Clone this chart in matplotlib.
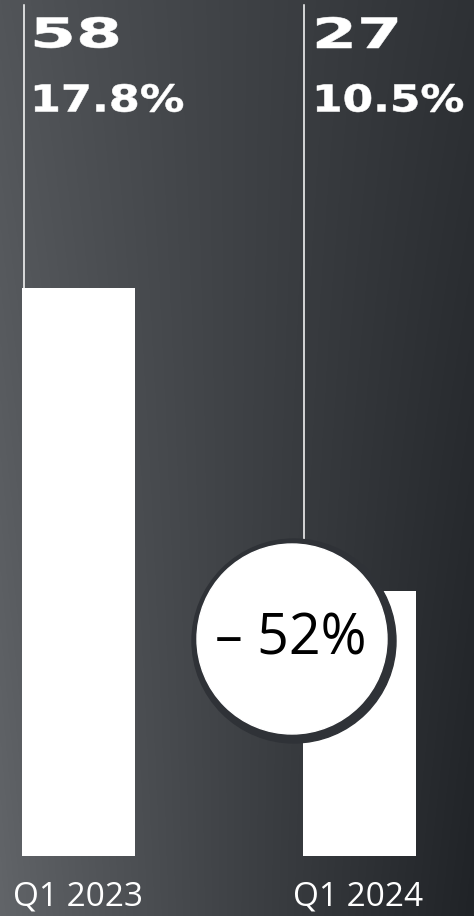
import numpy as np
import matplotlib
matplotlib.use("Agg")
import matplotlib.pyplot as plt
from matplotlib.patches import Circle, PathPatch
from matplotlib.textpath import TextPath
from matplotlib.font_manager import FontProperties
from matplotlib.transforms import Affine2D

# data
periods = ["Q1 2023", "Q1 2024"]
counts = [58, 27]
shares = ["17.8%", "10.5%"]
change = "\u2013 52%"

W, H = 474, 916
fig = plt.figure(figsize=(W / 100, H / 100), dpi=100)

# main axes: bars in data units, x = category index
scale = 9.8  # pixels per unit
base_px = 856
ax = fig.add_axes([0, 0, 1, 1])
ax.set_xlim(-78.5 / 280.5, (W - 78.5) / 280.5)
ax.set_ylim(-(H - base_px) / scale, base_px / scale)
ax.axis("off")

# background gradient (light grey on the left, near black on the right)
tx = np.linspace(0, 1, 240)[None, :]
ty = np.linspace(0, 1, 240)[:, None]  # 0 = top
left = 82 + 16 * ty
right = 46 - 14 * ty
v = left + (right - left) * tx ** 0.9
img = np.dstack([v, v + 3, v + 7]) / 255
x0, x1 = ax.get_xlim()
y0, y1 = ax.get_ylim()
ax.imshow(img, extent=[x0, x1, y0, y1], aspect="auto", zorder=0, origin="upper")

bar_w = 113 / 280.5
xs = np.arange(len(counts))
ax.bar(xs, counts, width=bar_w, color="white", zorder=2)

# thin guide lines from the bar's left edge up to the top
top_val = (base_px - 5) / scale
for x, c in zip(xs, counts):
    lx = x - bar_w / 2 + 1.5 / 280.5
    ax.plot([lx, lx], [c, top_val], color="white", lw=1.1, zorder=1)

# overlay axes in pixel units (y measured from the bottom)
ov = fig.add_axes([0, 0, 1, 1])
ov.set_xlim(0, W)
ov.set_ylim(0, H)
ov.axis("off")
ov.patch.set_alpha(0)


def fit_text(s, x_left, x_right, y_top, y_bottom):
    # wide bold headline text, fitted into a pixel box
    tp = TextPath((0, 0), s, size=1, prop=FontProperties(family="DejaVu Sans", weight="bold"))
    bb = tp.get_extents()
    sx = (x_right - x_left) / bb.width
    sy = (y_bottom - y_top) / bb.height
    tr = Affine2D().translate(-bb.x0, -bb.y0).scale(sx, sy).translate(x_left, H - y_bottom)
    ov.add_patch(PathPatch(tr.transform_path(tp), fc="white", ec="white", lw=0.4, zorder=5))


fit_text(str(counts[0]), 35, 118, 17, 48)
fit_text(shares[0], 35, 183, 84, 112)
fit_text(str(counts[1]), 317, 397, 17, 48)
fit_text(shares[1], 317, 463, 84, 112)

# change badge
ov.add_patch(Circle((294, H - 641), 102, color="#2f3237", zorder=6))
ov.add_patch(Circle((292, H - 639), 95, color="white", zorder=7))
ov.text(291, H - 640, change, ha="center", va="center", fontsize=40,
        family="Open Sans", color="black", zorder=8)

# category labels
for x, lab in zip([78.5, 358.5], periods):
    ov.text(x, H - 897, lab, ha="center", va="center", fontsize=24,
            family="Open Sans", color="white", zorder=5)

fig.savefig("out.png", dpi=100)
